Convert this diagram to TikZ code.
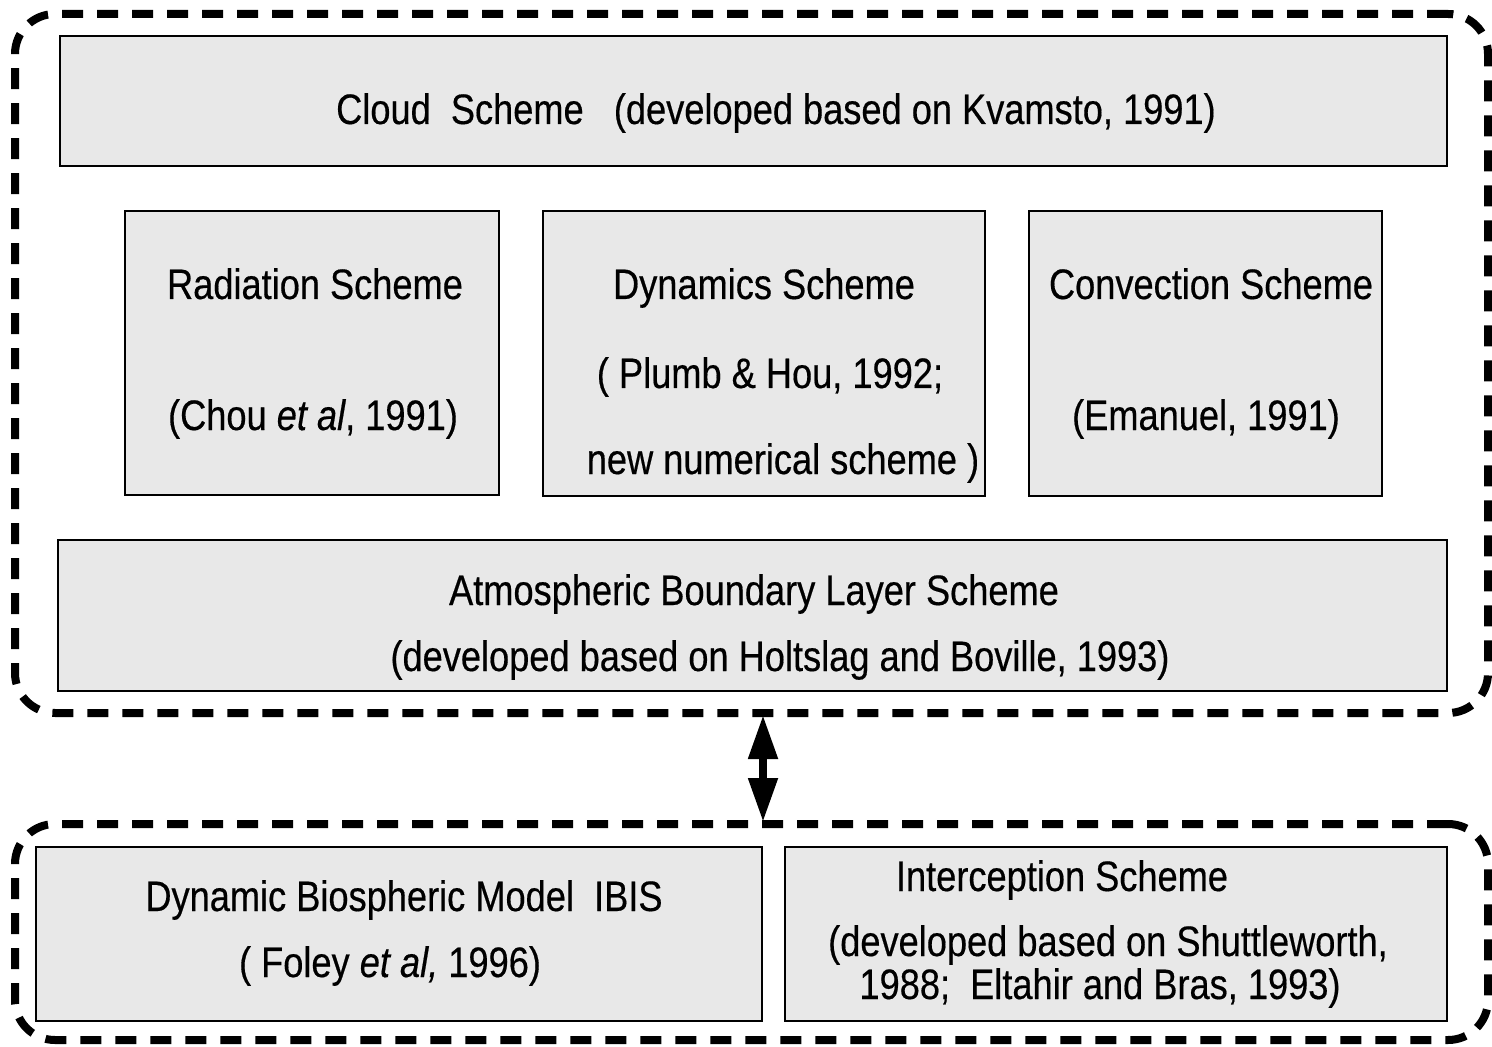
\documentclass[tikz,border=0pt]{standalone}
\usepackage{fontspec}
\setmainfont{Liberation Sans}[FakeStretch=0.85,FakeBold=0.4]
\usetikzlibrary{fit,arrows.meta}
\tikzset{
  box/.style={draw=black, line width=1pt, fill=black!9, inner sep=0pt},
  frame/.style={draw=black, line width=4pt, dash pattern=on 10.5pt off 7pt, rounded corners=20pt, inner sep=0pt},
  txt/.style={anchor=base, inner sep=0pt, font=\fontsize{21.3}{25}\selectfont},
  dblarrow/.style={line width=4pt, {Triangle[length=22pt,width=14pt]}-{Triangle[length=22pt,width=14pt]}, shorten <=-1pt, shorten >=-1pt}
}
\begin{document}
\begin{tikzpicture}[x=0.5pt,y=-0.5pt]
\useasboundingbox (0,0) rectangle (1492,1047);
% outer frames
\node[frame, fit={(15,14) (1488,713)}] (top) {};
\node[frame, fit={(15,824) (1488,1040)}] (bot) {};
% boxes
\node[box, fit={(60,36) (1447,166)}] (cloud) {};
\node[box, fit={(125,211) (499,495)}] (rad) {};
\node[box, fit={(543,211) (985,496)}] (dyn) {};
\node[box, fit={(1029,211) (1382,496)}] (conv) {};
\node[box, fit={(58,540) (1447,691)}] (abl) {};
\node[box, fit={(36,847) (762,1021)}] (ibis) {};
\node[box, fit={(785,847) (1447,1021)}] (inter) {};
% texts
\node[txt] (t1) at (776,124) {Cloud\ \ Scheme\ \ \ (developed based on Kvamsto, 1991)};
\node[txt] (t2) at (315,299) {Radiation Scheme};
\node[txt] (t3) at (313,430) {(Chou \textit{et al}, 1991)};
\node[txt] (t4) at (764,299) {Dynamics Scheme};
\node[txt] (t5) at (770,388) {( Plumb \& Hou, 1992;};
\node[txt] (t6) at (783,474) {new numerical scheme )};
\node[txt] (t7) at (1211,299) {Convection Scheme};
\node[txt] (t8) at (1206,430) {(Emanuel, 1991)};
\node[txt] (t9) at (754,605) {Atmospheric Boundary Layer Scheme};
\node[txt] (t10) at (780,671) {(developed based on Holtslag and Boville, 1993)};
\node[txt] (t11) at (404,911) {Dynamic Biospheric Model\ \ IBIS};
\node[txt] (t12) at (390,977) {( Foley \textit{et al,} 1996)};
\node[txt] (t13) at (1062,891) {Interception Scheme};
\node[txt] (t14) at (1108,956) {(developed based on Shuttleworth,};
\node[txt] (t15) at (1100,999) {1988;\ \ Eltahir and Bras, 1993)};
% arrow
\coordinate (ax) at (763,0);
\draw[dblarrow] (top.south -| ax) -- (bot.north -| ax);
\end{tikzpicture}
\end{document}
